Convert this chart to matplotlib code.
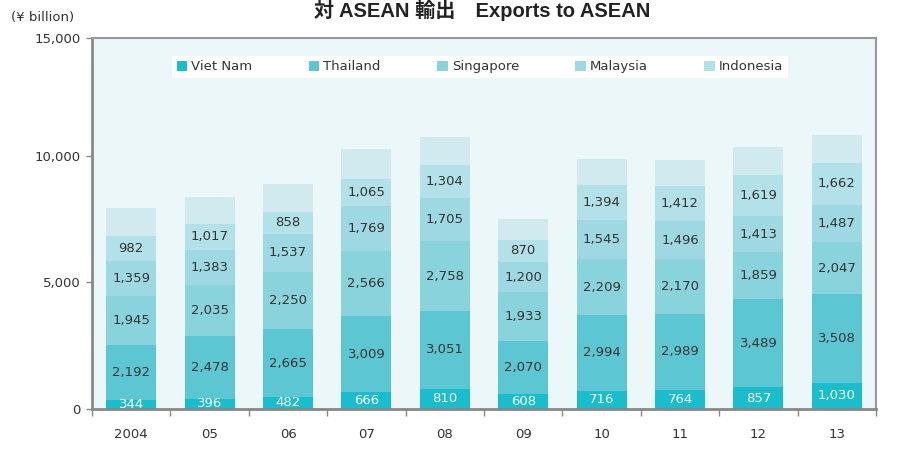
import matplotlib
matplotlib.use("Agg")
import matplotlib.pyplot as plt
from matplotlib.patches import Patch
import numpy as np

plt.rcParams['font.family'] = ['DejaVu Sans', 'Noto Sans CJK JP']

years = ["2004", "05", "06", "07", "08", "09", "10", "11", "12", "13"]
viet_nam = [344, 396, 482, 666, 810, 608, 716, 764, 857, 1030]
thailand = [2192, 2478, 2665, 3009, 3051, 2070, 2994, 2989, 3489, 3508]
singapore = [1945, 2035, 2250, 2566, 2758, 1933, 2209, 2170, 1859, 2047]
malaysia = [1359, 1383, 1537, 1769, 1705, 1200, 1545, 1496, 1413, 1487]
indonesia = [982, 1017, 858, 1065, 1304, 870, 1394, 1412, 1619, 1662]
# unlabeled top segment (not in legend)
other = [1110, 1070, 1110, 1190, 1110, 830, 1030, 990, 1110, 1110]

series_names = ["Viet Nam", "Thailand", "Singapore", "Malaysia", "Indonesia"]
colors = ["#19BDCC", "#5CC6D3", "#89D3DD", "#9ED9E3", "#B3E1E9", "#D1EAEF"]

fig = plt.figure(figsize=(8.99, 4.51), dpi=100)
ax = fig.add_axes([92/899, 1-409/451, (876-92)/899, (409-38)/451])
ax.set_facecolor("#ECF7F9")

x = np.arange(len(years))
width = 0.64
bottom = np.zeros(len(years))
all_series = [viet_nam, thailand, singapore, malaysia, indonesia, other]
for i, vals in enumerate(all_series):
    vals = np.array(vals, dtype=float)
    ax.bar(x, vals, width, bottom=bottom, color=colors[i], linewidth=0, zorder=2)
    if i < 5:
        for xi, b, v in zip(x, bottom, vals):
            ax.text(xi, b + v/2, f"{int(v):,}", ha="center", va="center",
                    fontsize=9.5, color="white" if i == 0 else "#333333",
                    zorder=3, clip_on=True)
    bottom += vals

ymax = 14660
ax.set_ylim(0, ymax)
ax.set_xlim(-0.5, len(years) - 0.5)

ax.set_yticks([0, 5000, 10000, ymax])
ax.set_yticklabels(["0", "5,000", "10,000", "15,000"], fontsize=9.5, color="#333333")
ax.tick_params(axis="y", length=4, color="#888888", width=1, pad=4)

ax.set_xticks(np.arange(-0.5, len(years), 1.0))
ax.set_xticklabels([])
ax.tick_params(axis="x", which="major", length=5, color="#888888", width=1, direction="out")
ax.set_xticks(x, minor=True)
ax.set_xticklabels(years, minor=True, fontsize=9.5, color="#333333")
ax.tick_params(axis="x", which="minor", length=0, pad=14)

for s in ["left", "bottom"]:
    ax.spines[s].set_color("#888888")
    ax.spines[s].set_linewidth(2)
for s in ["top", "right"]:
    ax.spines[s].set_color("#999999")
    ax.spines[s].set_linewidth(1.5)

handles = [Patch(facecolor=colors[i], edgecolor="none", label=series_names[i]) for i in range(5)]
leg = ax.legend(handles=handles, loc="lower left",
                bbox_to_anchor=((172-92)/784, (409-78)/371, (788-172)/784, 26/371),
                mode="expand", ncol=5, fontsize=9.5, frameon=True, fancybox=False,
                handlelength=0.8, handleheight=0.8, handletextpad=0.3,
                borderaxespad=0, borderpad=0.35)
leg.get_frame().set_facecolor("white")
leg.get_frame().set_edgecolor("none")
leg.get_frame().set_alpha(1)
for t in leg.get_texts():
    t.set_color("#333333")

fig.text(482/899, 1-10/451, "対 ASEAN 輸出　Exports to ASEAN", ha="center", va="center",
         fontsize=14.5, fontweight="bold", color="#222222",
         family=["Liberation Sans", "Noto Sans CJK JP"])
fig.text(43/899, 1-18/451, "(¥ billion)", ha="center", va="center", fontsize=9.5, color="#333333")

fig.savefig("out.png", dpi=100)
